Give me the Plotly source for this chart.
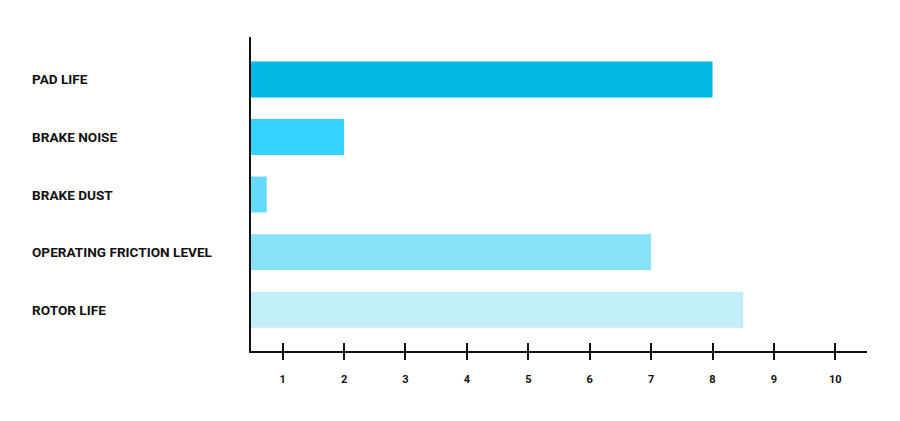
import plotly.graph_objects as go

categories = ["PAD LIFE", "BRAKE NOISE", "BRAKE DUST", "OPERATING FRICTION LEVEL", "ROTOR LIFE"]
values = [8.0, 2.0, 0.74, 7.0, 8.5]
colors = ["#02B9E6", "#33D3FF", "#64DBFC", "#88E2F8", "#C2EEF9"]
tick_values = list(range(1, 11))
tick_labels = [str(v) for v in tick_values]

FONT = "Roboto"
INK = "#111111"

fig = go.Figure()
fig.add_trace(go.Bar(
    x=values, y=categories, orientation="h",
    marker=dict(color=colors, line=dict(width=0)),
    width=0.625, hoverinfo="x+y", showlegend=False,
))
# invisible trace to carry the inner tick marks axis
fig.add_trace(go.Scatter(
    x=[tick_values[0]], y=[categories[0]], xaxis="x2", mode="markers",
    marker=dict(opacity=0), hoverinfo="skip", showlegend=False,
))

xr = [0.484, 10.516]
fig.update_layout(
    width=884, height=405,
    margin=dict(l=243, r=25, t=29, b=62),
    paper_bgcolor="white", plot_bgcolor="white",
    font=dict(family=FONT, color=INK),
    xaxis=dict(
        range=xr, tickvals=tick_values, ticktext=tick_labels,
        showgrid=False, zeroline=False,
        showline=True, linewidth=2, linecolor=INK,
        ticks="outside", ticklen=7, tickwidth=2, tickcolor=INK,
        tickfont=dict(family=FONT, size=11, color=INK, weight="bold"),
        ticklabelstandoff=10,
    ),
    xaxis2=dict(
        range=xr, tickvals=tick_values, overlaying="x", anchor="y", side="bottom",
        showgrid=False, zeroline=False, showline=False, showticklabels=False,
        ticks="inside", ticklen=8, tickwidth=2, tickcolor=INK,
    ),
    yaxis=dict(
        categoryorder="array", categoryarray=categories,
        range=[4.718, -0.738],
        showgrid=False, zeroline=False, showticklabels=False,
        showline=True, linewidth=2, linecolor=INK, ticks="",
    ),
)

for c in categories:
    fig.add_annotation(
        x=-0.3587, xref="paper", y=c, yref="y", text=c, showarrow=False,
        xanchor="left", yanchor="middle",
        font=dict(family=FONT, size=13.6, color=INK, weight="bold"),
    )

fig.write_html("out.html")
